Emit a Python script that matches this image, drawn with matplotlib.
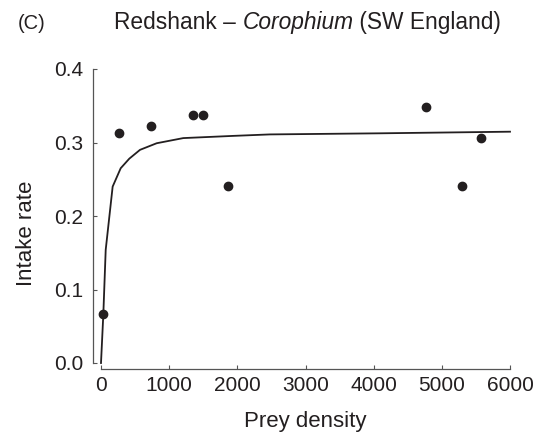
import matplotlib.pyplot as plt

plt.rcParams['font.family'] = ['Liberation Sans', 'DejaVu Sans']

# observed points
prey_density = [34, 264, 733, 1354, 1496, 1862, 4775, 5303, 5572]
intake_rate = [0.066, 0.313, 0.322, 0.337, 0.337, 0.241, 0.348, 0.241, 0.306]

# fitted curve
curve_x = [0, 34, 69, 171, 289, 415, 572, 817, 1207, 1940, 2478, 4091, 6000]
curve_y = [0.0, 0.066, 0.154, 0.240, 0.265, 0.278, 0.290, 0.299, 0.306, 0.309, 0.311, 0.3125, 0.3147]

xticks = [0, 1000, 2000, 3000, 4000, 5000, 6000]
yticks = [0.0, 0.1, 0.2, 0.3, 0.4]

ink = '#231f20'

fig = plt.figure(figsize=(5.36, 4.34), dpi=100)
ax = fig.add_axes([101/536, 71/434, 409/536, 294/434])

ax.plot(curve_x, curve_y, color=ink, lw=1.3, clip_on=False)
ax.plot(prey_density, intake_rate, 'o', color=ink, ms=6, clip_on=False)

ax.set_xlim(0, 6000)
ax.set_ylim(0, 0.4)
ax.set_xticks(xticks)
ax.set_yticks(yticks)
ax.set_yticklabels(['%.1f' % v for v in yticks])

for s in ['top', 'right']:
    ax.spines[s].set_visible(False)
ax.spines['left'].set_position(('outward', 5.8))
ax.spines['bottom'].set_position(('outward', 4.3))
for s in ['left', 'bottom']:
    ax.spines[s].set_color('#555555')
    ax.spines[s].set_linewidth(0.9)

ax.tick_params(direction='in', length=3, width=0.8, color='#555555',
               labelsize=15, labelcolor=ink)
ax.tick_params(axis='x', pad=5)
ax.tick_params(axis='y', pad=7)

fig.text(305/536, 1 - 427/434, 'Prey density', fontsize=16, color=ink,
         ha='center', va='baseline')
fig.text(27/536, 1 - 233/434, 'Intake rate', fontsize=16, color=ink,
         ha='center', va='center', rotation=90)

fig.text(18/536, 1 - 29/434, '(C)', fontsize=14.5, color=ink, va='baseline')
t1 = fig.text(114/536, 1 - 29/434, 'Redshank \u2013 ', fontsize=16.4, color=ink, va='baseline')
t2 = ax.annotate('Corophium', xy=(1, 0), xycoords=t1, fontsize=16.4, color=ink,
                 style='italic', va='bottom', ha='left')
ax.annotate(' (SW England)', xy=(1, 0), xycoords=t2, fontsize=16.4, color=ink,
            va='bottom', ha='left')

plt.savefig('out.png', dpi=100)
